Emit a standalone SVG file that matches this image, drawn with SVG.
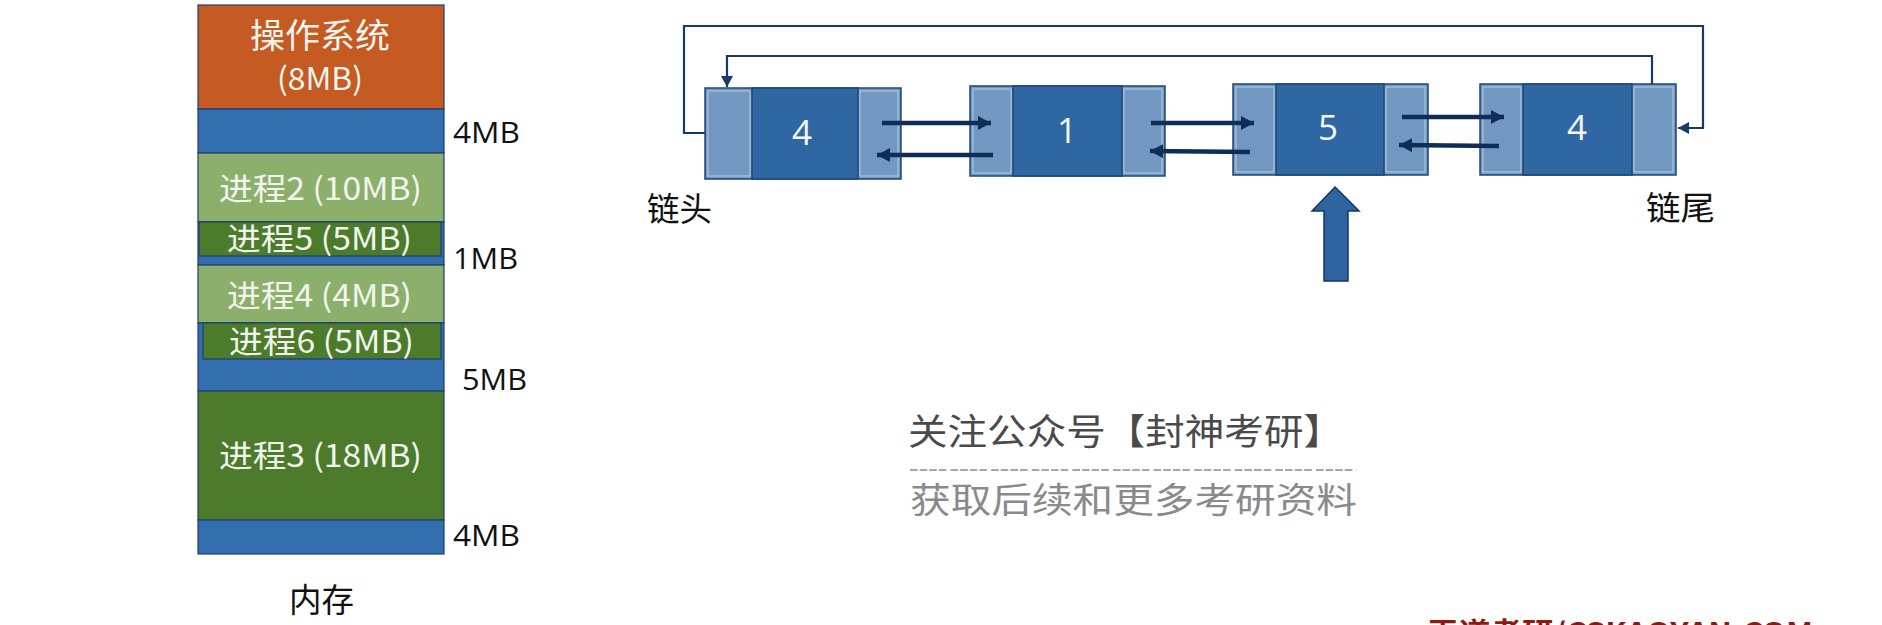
<svg xmlns="http://www.w3.org/2000/svg" width="1882" height="625" viewBox="0 0 1882 625">
<style>
.mem{stroke:#1f3f6e;stroke-width:1.2}
.os{fill:#c55a22}
.free{fill:#336fae}
.lg{fill:#8caf6c}
.dg{fill:#4b7b2b}
.mt{font-family:"Noto Sans CJK SC","Noto Sans",sans-serif;fill:#f2f4ee;text-anchor:middle}
.lab{font-family:"Open Sans","Noto Sans",sans-serif;fill:#111;font-size:29px}
.cjk{font-family:"Noto Sans CJK SC",sans-serif;fill:#111}
.outer{fill:#7298c1;stroke:#1d4675;stroke-width:1.5}
.inner{fill:#2e67a2;stroke:#1d4675;stroke-width:1.5}
.hl{fill:none;stroke:#c9d9ec;stroke-width:1;opacity:0.8}
.num{font-family:"Open Sans","Noto Sans",sans-serif;fill:#f4f7fb;font-size:35px;text-anchor:middle}
.link{stroke:#0e2d57;stroke-width:4.5;fill:none}
.loop{stroke:#163a6c;stroke-width:2.2;fill:none}
</style>
<defs>
<marker id="ah" markerUnits="userSpaceOnUse" markerWidth="14" markerHeight="14" refX="13" refY="7" orient="auto">
<path d="M0,0 L13,7 L0,14 z" fill="#0e2d57"/>
</marker>
<marker id="sh" markerUnits="userSpaceOnUse" markerWidth="12" markerHeight="12" refX="11" refY="6" orient="auto">
<path d="M0,0 L11,6 L0,12 z" fill="#163a6c"/>
</marker>
</defs>
<rect width="1882" height="625" fill="#ffffff"/>

<g id="memory">
<rect class="mem os" x="198" y="5" width="246" height="104"/>
<rect class="mem free" x="198" y="109" width="246" height="44"/>
<rect class="mem lg" x="198" y="153" width="246" height="69"/>
<rect class="mem free" x="198" y="222" width="246" height="43"/>
<rect class="mem dg" x="199" y="222" width="242" height="34"/>
<rect class="mem lg" x="198" y="265" width="246" height="58"/>
<rect class="mem free" x="198" y="323" width="246" height="68"/>
<rect class="mem dg" x="203" y="323" width="238" height="36"/>
<rect class="mem dg" x="198" y="391" width="246" height="129"/>
<rect class="mem free" x="198" y="520" width="246" height="34"/>
<text class="mt" x="320" y="48" font-size="34" textLength="140" lengthAdjust="spacingAndGlyphs">操作系统</text>
<text class="mt" x="320" y="90" font-size="31" textLength="86" lengthAdjust="spacingAndGlyphs">(8MB)</text>
<text class="mt" x="320.5" y="200" font-size="31" textLength="203" lengthAdjust="spacingAndGlyphs">进程2 (10MB)</text>
<text class="mt" x="319.5" y="250" font-size="31" textLength="185" lengthAdjust="spacingAndGlyphs">进程5 (5MB)</text>
<text class="mt" x="319.5" y="307" font-size="31" textLength="185" lengthAdjust="spacingAndGlyphs">进程4 (4MB)</text>
<text class="mt" x="321.5" y="353" font-size="31" textLength="185" lengthAdjust="spacingAndGlyphs">进程6 (5MB)</text>
<text class="mt" x="320.5" y="467" font-size="31" textLength="203" lengthAdjust="spacingAndGlyphs">进程3 (18MB)</text>
<text class="lab" x="453" y="143" textLength="67" lengthAdjust="spacingAndGlyphs">4MB</text>
<text class="lab" x="453" y="269" textLength="65" lengthAdjust="spacingAndGlyphs">1MB</text>
<text class="lab" x="462" y="390" textLength="65" lengthAdjust="spacingAndGlyphs">5MB</text>
<text class="lab" x="453" y="546" textLength="67" lengthAdjust="spacingAndGlyphs">4MB</text>
<text class="cjk" x="289" y="612" font-size="33" textLength="65" lengthAdjust="spacingAndGlyphs">内存</text>
</g>

<g id="node1">
<rect class="outer" x="705" y="88" width="196" height="91"/>
<rect class="hl" x="708" y="91" width="42" height="85"/>
<rect class="hl" x="860" y="91" width="38" height="85"/>
<rect class="inner" x="752" y="88" width="106" height="91"/>
<text class="num" x="802" y="145">4</text>
</g>
<g id="node2">
<rect class="outer" x="970" y="86" width="195" height="90"/>
<rect class="hl" x="973" y="89" width="38" height="84"/>
<rect class="hl" x="1124" y="89" width="38" height="84"/>
<rect class="inner" x="1013" y="86" width="109" height="90"/>
<text class="num" x="1067" y="143">1</text>
</g>
<g id="node3">
<rect class="outer" x="1233" y="84" width="195" height="91"/>
<rect class="hl" x="1236" y="87" width="38" height="85"/>
<rect class="hl" x="1386" y="87" width="39" height="85"/>
<rect class="inner" x="1276" y="84" width="108" height="91"/>
<text class="num" x="1328" y="140">5</text>
</g>
<g id="node4">
<rect class="outer" x="1480" y="84" width="196" height="91"/>
<rect class="hl" x="1483" y="87" width="38" height="85"/>
<rect class="hl" x="1634" y="87" width="39" height="85"/>
<rect class="inner" x="1523" y="84" width="109" height="91"/>
<text class="num" x="1577" y="140">4</text>
</g>

<g id="labels">
<text class="cjk" x="647" y="221" font-size="33" textLength="65" lengthAdjust="spacingAndGlyphs">链头</text>
<text class="cjk" x="1646" y="220" font-size="33" textLength="69" lengthAdjust="spacingAndGlyphs">链尾</text>
</g>

<g id="connectors">
<line class="link" x1="882" y1="123" x2="991" y2="123" marker-end="url(#ah)"/>
<line class="link" x1="993" y1="155" x2="877" y2="155" marker-end="url(#ah)"/>
<line class="link" x1="1151" y1="123" x2="1254" y2="123" marker-end="url(#ah)"/>
<line class="link" x1="1250" y1="152" x2="1150" y2="151" marker-end="url(#ah)"/>
<line class="link" x1="1402" y1="117" x2="1504" y2="117" marker-end="url(#ah)"/>
<line class="link" x1="1499" y1="146" x2="1399" y2="145" marker-end="url(#ah)"/>
<path class="loop" d="M705,133 H684 V26 H1703 V128 H1678" marker-end="url(#sh)"/>
<path class="loop" d="M1652,84 V56 H727 V87" marker-end="url(#sh)"/>
</g>

<g id="pointer">
<path d="M1335,187 L1359,211 L1348,211 L1348,281 L1324,281 L1324,211 L1312,211 Z" fill="#2e64a0" stroke="#14365f" stroke-width="1.5"/>
</g>

<g id="watermark">
<text x="908" y="445" font-family="Noto Sans CJK SC, sans-serif" font-size="36" fill="#4a4a4a" textLength="435" lengthAdjust="spacingAndGlyphs">关注公众号【封神考研】</text>
<line x1="910" y1="470" x2="1357" y2="470" stroke="#8a8a8a" stroke-width="1.6" stroke-dasharray="7.6 2 7.6 2 7.6 2 7.6 4.2"/>
<text x="910" y="513" font-family="Noto Sans CJK SC, sans-serif" font-size="35" fill="#8a8a8a" textLength="447" lengthAdjust="spacingAndGlyphs">获取后续和更多考研资料</text>
<text x="1427" y="643" font-family="Noto Sans CJK SC, sans-serif" font-size="28" font-weight="bold" fill="#8b1a12" textLength="386" lengthAdjust="spacingAndGlyphs">王道考研/CSKAOYAN.COM</text>
</g>
</svg>
